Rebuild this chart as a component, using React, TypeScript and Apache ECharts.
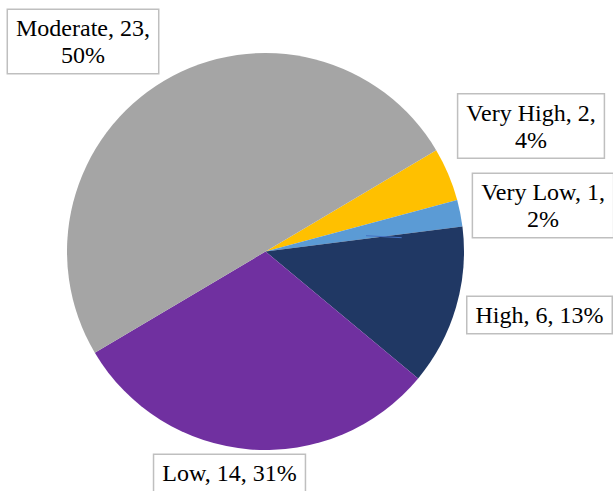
import React, { useEffect, useRef } from "react";
import * as echarts from "echarts";

const categories = ["Very High", "Very Low", "High", "Low", "Moderate"];
const counts = [2, 1, 6, 14, 23];
const percentLabels = [4, 2, 13, 31, 50];
const twoLineLabels = [true, true, false, false, true];
const colors = ["#FFC000", "#5B9BD5", "#203864", "#7030A0", "#A5A5A5"];

const labelCenters: [number, number][] = [
  [531, 126],
  [543, 205.5],
  [539.5, 315],
  [229.5, 473],
  [83, 41.5],
];

export default function App() {
  const ref = useRef<HTMLDivElement>(null);
  useEffect(() => {
    if (!ref.current) return;
    const chart = echarts.init(ref.current, undefined, { renderer: "svg" });
    chart.setOption({
      animation: false,
      backgroundColor: "#FFFFFF",
      graphic: [
        {
          type: "line",
          shape: { x1: 366, y1: 235.7, x2: 401.7, y2: 237.7 },
          style: { stroke: "#4472C4", lineWidth: 1 },
          z: 100,
        },
      ],
      series: [
        {
          type: "pie",
          center: [265.5, 251.5],
          radius: 198.5,
          startAngle: 30.7,
          clockwise: true,
          avoidLabelOverlap: false,
          emphasis: { disabled: true },
          itemStyle: { borderWidth: 0 },
          labelLine: { show: false },
          data: categories.map((name, i) => ({
            name,
            value: counts[i],
            itemStyle: { color: colors[i] },
          })),
          label: {
            show: true,
            position: "outside",
            formatter: (p: any) => {
              const i = p.dataIndex;
              return twoLineLabels[i]
                ? `${categories[i]}, ${counts[i]},\n${percentLabels[i]}%`
                : `${categories[i]}, ${counts[i]}, ${percentLabels[i]}%`;
            },
            fontFamily: "Liberation Serif",
            fontSize: 24,
            lineHeight: 27,
            color: "#000000",
            backgroundColor: "#FFFFFF",
            borderColor: "#BFBFBF",
            borderWidth: 1.5,
            padding: [4.5, 8],
            align: "center",
          },
          labelLayout: (params: any) => {
            const c = labelCenters[params.dataIndex];
            return {
              x: c[0],
              y: c[1],
              align: "center",
              verticalAlign: "middle",
              hideOverlap: false,
            };
          },
        },
      ],
    });
    return () => chart.dispose();
  }, []);
  return (
    <div
      ref={ref}
      style={{ position: "fixed", left: 0, top: 0, width: 613, height: 491 }}
    />
  );
}
